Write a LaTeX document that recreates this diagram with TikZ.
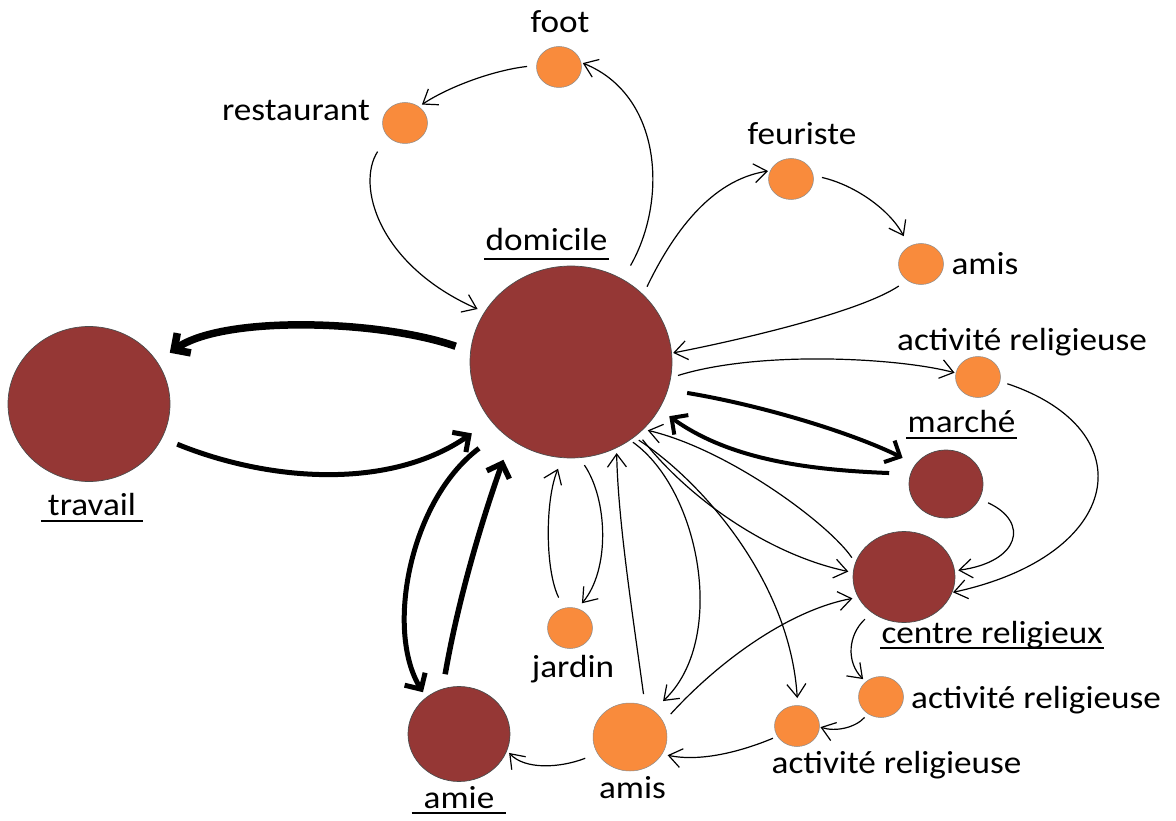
\documentclass[tikz,border=0pt]{standalone}
\usepackage{fontspec}
\setmainfont{Carlito}[FakeStretch=1.1]
\usetikzlibrary{arrows.meta,shapes.geometric}
\definecolor{dred}{HTML}{953735}
\definecolor{org}{HTML}{F98B3C}
\begin{document}
\begin{tikzpicture}[x=1pt,y=1pt,
  font=\fontsize{32}{38}\selectfont,
  big/.style={ellipse,draw=black!70,line width=0.7pt,fill=dred,inner sep=0pt,outer sep=0pt},
  small/.style={ellipse,draw=black!45,line width=0.5pt,fill=org,inner sep=0pt,outer sep=0pt,minimum width=45pt,minimum height=41pt},
  lbl/.style={inner sep=0pt,anchor=base},
  ulline/.style={line width=1.8pt,-},
  ul/.style 2 args={inner xsep=#1,append after command={([yshift=-#2]\tikzlastnode.base west) edge[ulline] ([yshift=-#2]\tikzlastnode.base east)}},
  ta/.style={line width=1.2pt,-{Straight Barb[length=13pt,width=19pt]}},
  tb/.style={line width=#1,-{Straight Barb[length=12pt,width=24pt]}}
]
\useasboundingbox (0,0) rectangle (1176,-821);
% places
\node[big,minimum width=202pt,minimum height=192pt] (D) at (571,-362) {};
\node[big,minimum width=162pt,minimum height=155pt] (T) at (89,-404) {};
\node[big,minimum width=74pt,minimum height=68pt] (M) at (946,-484) {};
\node[big,minimum width=102pt,minimum height=91pt] (C) at (904,-577) {};
\node[big,minimum width=102pt,minimum height=95pt] (AM) at (459,-734) {};
\node[small] (F) at (559,-67) {};
\node[small] (R) at (405,-123) {};
\node[small] (FE) at (791,-179) {};
\node[small] (A1) at (921,-264) {};
\node[small] (AR1) at (978,-377) {};
\node[small] (AR2) at (881,-697) {};
\node[small] (AR3) at (797,-726) {};
\node[small] (J) at (570,-628) {};
\node[small,minimum width=74pt,minimum height=68pt] (A2) at (630,-737) {};
% labels
\node[lbl] (lF) at (560,-33) {foot};
\node[lbl] (lR) at (296,-121) {restaurant};
\node[lbl,ul={1pt}{8pt}] (lD) at (546.5,-251) {domicile};
\node[lbl] (lFE) at (802,-145) {feuriste};
\node[lbl] (lA1) at (985,-275) {amis};
\node[lbl] (lAR1) at (1022,-350) {activité religieuse};
\node[lbl,ul={1pt}{6pt}] (lM) at (961.5,-432) {marché};
\node[lbl,ul={1pt}{5pt}] (lC) at (992,-643) {centre religieux};
\node[lbl] (lAR2) at (1036,-708) {activité religieuse};
\node[lbl] (lAR3) at (896.5,-773) {activité religieuse};
\node[lbl] (lJ) at (573,-677) {jardin};
\node[lbl] (lA2) at (632.5,-798) {amis};
\node[lbl,ul={12pt}{5pt}] (lAM) at (459,-808) {amie};
\node[lbl,ul={7pt}{6pt}] (lT) at (92,-515) {travail};
% thin connectors
\draw[ta,shorten <=9.6pt,shorten >=3.9pt] (F.176) .. controls (495,-70) and (450,-86) .. (R.50);
\draw[ta,shorten <=18.5pt,shorten >=7.8pt] (R.217) .. controls (356,-185) and (378,-265) .. (D.150);
\draw[ta,shorten <=16pt,shorten >=2pt] (D.58.7) .. controls (668,-200) and (662,-95) .. (F.12);
\draw[ta,shorten <=9pt,shorten >=2.4pt] (D.43.5) .. controls (672,-235) and (710,-180) .. (FE.158.6);
\draw[ta,shorten <=9pt,shorten >=11.7pt] (FE.9) .. controls (855,-185) and (890,-210) .. (A1.124);
\draw[ta,shorten <=10.3pt,shorten >=1.6pt] (A1.230) .. controls (860,-312) and (740,-340) .. (D.5);
\draw[ta,shorten <=7.7pt,shorten >=1.4pt] (D.-9.5) .. controls (760,-350) and (900,-358) .. (AR1.170.5);
\draw[ta,shorten <=7.8pt,shorten >=1.1pt] (AR1.-11.3) .. controls (1145,-430) and (1125,-555) .. (C.-18.1);
\draw[ta,shorten <=9.6pt,shorten >=3.7pt] (M.-24.3) .. controls (1030,-522) and (1020,-562) .. (C.7.4);
\draw[ta,shorten <=6.5pt,shorten >=4.8pt] (C.164.7) .. controls (830,-525) and (730,-450) .. (D.-43.4);
\draw[ta,shorten <=7.4pt,shorten >=5pt] (D.-47.7) .. controls (690,-500) and (770,-555) .. (C.175.9);
\draw[ta,shorten <=11.9pt,shorten >=12pt] (J.107.9) .. controls (545,-570) and (545,-500) .. (D.265.8);
\draw[ta,shorten <=9pt,shorten >=7pt] (D.-85.6) .. controls (608,-500) and (610,-570) .. (J.69);
\draw[ta,shorten <=12pt,shorten >=5.4pt] (A2.64.5) .. controls (632,-610) and (618,-520) .. (D.-62.7);
\draw[ta,shorten <=3.8pt,shorten >=13.7pt] (D.-53) .. controls (700,-490) and (728,-640) .. (A2.49.1);
\draw[ta,shorten <=5.7pt,shorten >=7.5pt] (D.-50.5) .. controls (700,-480) and (790,-580) .. (AR3.88);
\draw[ta,shorten <=11pt,shorten >=6pt] (A2.24.9) .. controls (720,-660) and (790,-610) .. (C.204.3);
\draw[ta,shorten <=9.8pt,shorten >=3.9pt] (C.228.5) .. controls (848,-635) and (846,-662) .. (AR2.135);
\draw[ta,shorten <=5pt,shorten >=1pt] (AR2.232.7) .. controls (855,-728) and (835,-732) .. (AR3.-2.4);
\draw[ta,shorten <=5pt,shorten >=5.7pt] (AR3.208.4) .. controls (740,-752) and (700,-762) .. (A2.-28.4);
\draw[ta,shorten <=13.3pt,shorten >=3.4pt] (A2.207.6) .. controls (560,-768) and (525,-770) .. (AM.-19.4);
% thick connectors
\draw[tb=4pt,shorten <=19.7pt,shorten >=14.7pt] (D.-16.9) .. controls (760,-405) and (850,-432) .. (M.147.9);
\draw[tb=4pt,shorten <=21.5pt,shorten >=12.5pt] (M.164) .. controls (810,-470) and (730,-460) .. (D.-28.2);
\draw[tb=5pt,shorten <=16.6pt,shorten >=23pt] (T.-25) .. controls (270,-482) and (390,-490) .. (D.216.7);
\draw[tb=7.5pt,shorten <=15.8pt,shorten >=15.7pt] (D.174.1) .. controls (380,-320) and (225,-315) .. (T.32.2);
\draw[tb=5pt,shorten <=28pt,shorten >=6.3pt] (D.225.3) .. controls (410,-500) and (385,-630) .. (AM.132);
\draw[tb=5.5pt,shorten <=15pt,shorten >=22pt] (AM.110.4) .. controls (458,-600) and (482,-520) .. (D.232.5);
\end{tikzpicture}
\end{document}
